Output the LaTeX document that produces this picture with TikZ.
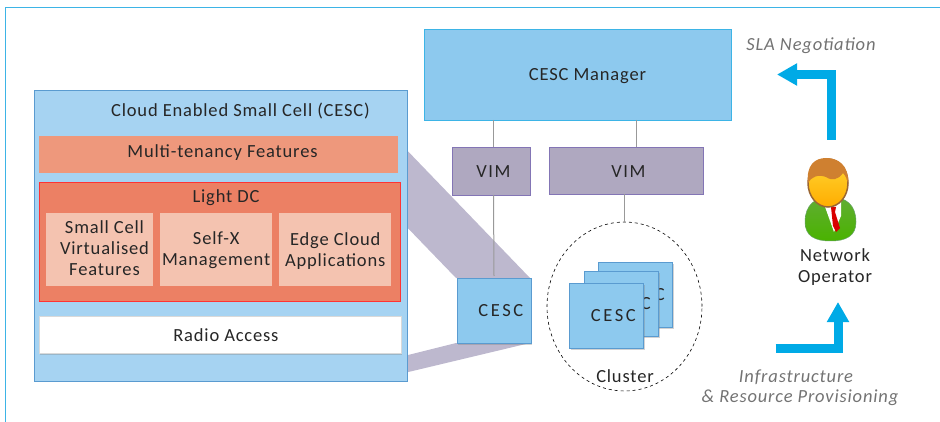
\documentclass[tikz,border=0pt]{standalone}
\usepackage{fontspec}
\setmainfont[LetterSpace=4.5]{Carlito}
\usetikzlibrary{arrows.meta,shadows}
\definecolor{cescBlue}{HTML}{A6D3F2}
\definecolor{cardBlue}{HTML}{8DC9EE}
\definecolor{cardEdge}{HTML}{5A9BD0}
\definecolor{vimPurple}{HTML}{AFA8C0}
\definecolor{vimEdge}{HTML}{8375B5}
\definecolor{wedgePurple}{HTML}{BDB8CE}
\definecolor{multiRed}{HTML}{EE987C}
\definecolor{lightRed}{HTML}{EC8064}
\definecolor{cellRed}{HTML}{F4C3B0}
\definecolor{arrowBlue}{HTML}{00AAE6}
\definecolor{lineBlue}{HTML}{3DB4E6}
\begin{document}
\begin{tikzpicture}
            [x=1pt,y=-1pt,
            every node/.style={font=\fontsize{18.5}{21}\selectfont,text=black!85,inner sep=0pt,align=center},
            Box/.style={draw,anchor=north west,line width=.8pt},
            Cell/.style={anchor=north west,fill=cellRed},
            Wide/.style={font=\fontsize{18.5}{21}\selectfont\addfontfeature{LetterSpace=14}},
            Card/.style={Box,Wide,draw=cardEdge,fill=cardBlue,minimum width=74pt,minimum height=65pt,
                drop shadow={shadow xshift=1.5pt,shadow yshift=-1.5pt,opacity=.35}},
            Vim/.style={Box,font=\fontsize{18.5}{21}\selectfont\addfontfeature{LetterSpace=9},draw=vimEdge,fill=vimPurple,minimum height=47.5pt},
            Line/.style={draw=black!40,line width=1pt},
            BigArrow/.style={draw=arrowBlue,line width=9pt,-{Triangle[width=21pt,length=20pt]}},
            Italic/.style={font=\fontsize{18.5}{21}\selectfont\itshape,text=black!55}];
            \useasboundingbox (0,0) rectangle (940,422);
            % frame
            \coordinate (frameA) at (5,422);
            \coordinate (frameB) at (5,7.5);
            \coordinate (frameC) at (940,7.5);
            \draw[lineBlue,line width=.8pt](frameA) -- (frameB) -- (frameC);
            % zoom wedges
            \fill[wedgePurple] (400,143) -- (530,278) -- (456,278) -- (400,220) -- cycle;
            \fill[wedgePurple] (400,357) -- (456,343) -- (530,343) -- (400,374) -- cycle;
            % left box
            \node[Box,draw=cardEdge,fill=cescBlue,minimum width=373.5pt,minimum height=291pt] (cesc) at (33.5,90){};
            \node (title) at (240.5,111){Cloud Enabled Small Cell (CESC)};
            \node[anchor=north west,fill=multiRed,minimum width=359pt,minimum height=37pt] (multi) at (39,136){};
            \node (multiText) at (222.5,153){Multi-tenancy Features};
            \node[Box,draw=red!80,fill=lightRed,minimum width=361pt,minimum height=118pt,
                drop shadow={shadow xshift=1pt,shadow yshift=-1.5pt,opacity=.4}] (dc) at (39,182.5){};
            \node (dcText) at (226,198){Light DC};
            \node[Cell,minimum width=107pt,minimum height=73pt] (cellA) at (46,213){};
            \node (cellAText) at (104.5,248.5){Small Cell\\Virtualised\\Features};
            \node[Cell,minimum width=112pt,minimum height=73pt] (cellB) at (160,213){\strut Self-X\\Management};
            \node[Cell,minimum width=112pt,minimum height=73pt] (cellC) at (279,213){\strut Edge Cloud\\Applications};
            \node[Box,draw=black!15,fill=white,minimum width=362pt,minimum height=37pt,
                drop shadow={shadow xshift=1pt,shadow yshift=-1.5pt,opacity=.35}] (radio) at (38.5,316){\hspace*{12pt}Radio Access};
            % top right
            \node[Box,draw=lineBlue,fill=cardBlue,minimum width=307pt,minimum height=91pt] (mgr) at (424,29){};
            \node (mgrText) at (587.5,76){CESC Manager};
            \node[Vim,minimum width=78pt] (vimA) at (452,147.5){\hspace*{4pt}VIM};
            \node[Vim,minimum width=154pt] (vimB) at (549,147){\hspace*{4pt}VIM};
            \node[Card] (cescA) at (456.5,278){\hspace*{14pt}CESC};
            \node[draw=black,dashed,circle,minimum size=155pt,yscale=1.09,line width=.6pt] (cluster) at (624.5,306.5){};
            \node (clusterText) at (625,376){Cluster};
            \node[Card] (cardC) at (598,262){\hspace*{14pt}CESC};
            \node[Card] (cardB) at (584,271){\hspace*{14pt}CESC};
            \node[Card] (cardA) at (569,283){\hspace*{14pt}CESC};
            % connectors
            \coordinate (mgrA) at (493,120);
            \coordinate (mgrB) at (636,120);
            \coordinate (vimAin) at (493,147.5);
            \coordinate (vimBin) at (636,147);
            \coordinate (vimAout) at (493.5,195);
            \coordinate (cescAin) at (494,276);
            \coordinate (vimBout) at (624.5,194.5);
            \coordinate (clusterIn) at (624.5,222);
            \draw[-,Line](mgrA) to (vimAin);
            \draw[-,Line](mgrB) to (vimBin);
            \draw[-,Line](vimAout) to (cescAin);
            \draw[-,Line](vimBout) to (clusterIn);
            % operator
            \coordinate (slaA) at (831.5,140);
            \coordinate (slaB) at (831.5,74.5);
            \coordinate (slaC) at (777,74.5);
            \coordinate (infraA) at (775.5,348.5);
            \coordinate (infraB) at (838,348.5);
            \coordinate (infraC) at (838,302);
            \draw[BigArrow](slaA) -- (slaB) -- (slaC);
            \draw[BigArrow](infraA) -- (infraB) -- (infraC);
            \node[Italic] (sla) at (811,46){SLA Negotiation};
            \node[Italic] (infra) at (796,377){Infrastructure};
            \node[Italic] (resource) at (800,398){\& Resource Provisioning};
            \node (operator) at (835,267.5){Network\\Operator};
            % person
            \shade[top color=green!50!lime!60!black!80,bottom color=green!45!lime!70!black,draw=green!40!black!60,line width=.5pt]
                (805,222) .. controls (805,205) and (815,197) .. (830.5,197)
                .. controls (846,197) and (856,205) .. (856,222)
                .. controls (856,236) and (846,241) .. (830.5,241)
                .. controls (815,241) and (805,236) .. (805,222) -- cycle;
            \fill[white] (824,204) -- (841,200) -- (841,216) -- (834,232) -- cycle;
            \fill[red!85!black] (831,207) -- (836,207) -- (835,212) -- (840,228) -- (836,232) -- (833,226) -- cycle;
            \shade[top color=yellow!60!orange!80,bottom color=orange!65!yellow,draw=brown!80!black,line width=1.5pt]
                (828,183) ellipse [x radius=20pt,y radius=24pt];
            \fill[brown!75!orange]
                (808,183) .. controls (806,165) and (815,158) .. (826,158)
                .. controls (838,158) and (849,165) .. (848,183)
                .. controls (847,180) and (846,176) .. (843,173)
                .. controls (838,180) and (832,181) .. (826,177)
                .. controls (818,174) and (811,177) .. (808,183) -- cycle;
        \end{tikzpicture}
\end{document}
